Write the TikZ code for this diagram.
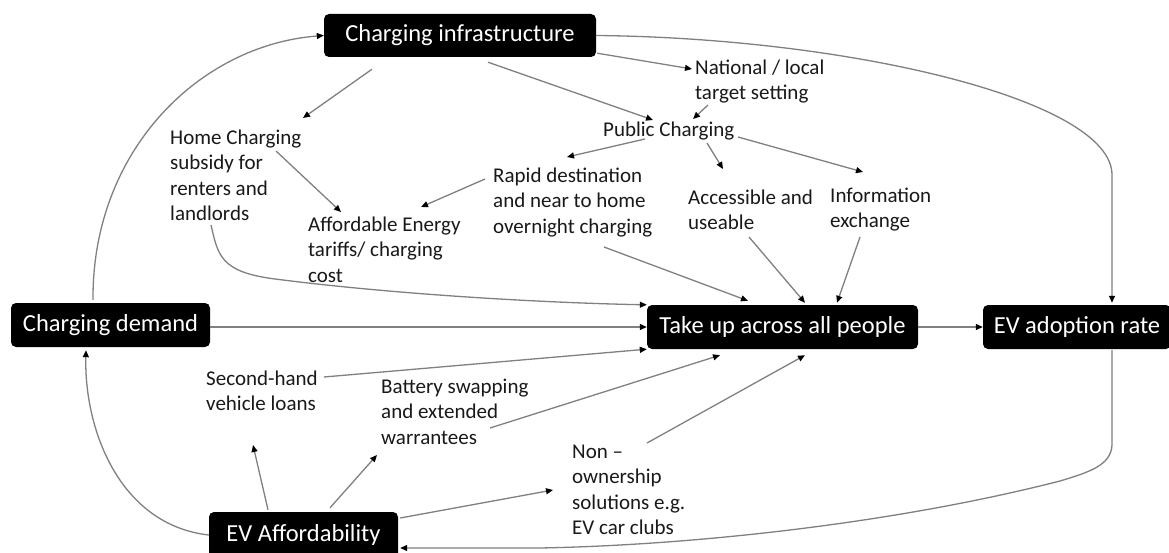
\documentclass[tikz,border=0pt]{standalone}
\usepackage{fontspec}
\setmainfont{Carlito}
\usetikzlibrary{arrows.meta,calc}
\definecolor{ln}{RGB}{128,128,128}
\definecolor{tx}{RGB}{25,25,25}
\begin{document}
\begin{tikzpicture}[x=1pt,y=-1pt,
  box/.style={fill=black, text=white, rounded corners=5pt, inner sep=0pt, font=\fontsize{24.5}{29}\selectfont},
  lbl/.style={anchor=north west, inner sep=0pt, align=left, text=tx, font=\fontsize{21}{25.5}\selectfont},
  arr/.style={draw=ln, line width=1.3pt, -{Triangle[length=7pt,width=6pt,color=black]}},
]
\clip (0,0) rectangle (1169,553);
\fill[white] (0,0) rectangle (1169,553);
% boxes
\node[box, minimum width=272pt, minimum height=43pt] (infra) at (460,35.5) {Charging infrastructure\hspace{18pt}};
\node[box, minimum width=199pt, minimum height=44pt] (demand) at (110.5,325) {Charging demand};
\node[box, minimum width=271pt, minimum height=44pt] (takeup) at (782.5,327) {Take up across all people};
\node[box, minimum width=188pt, minimum height=44pt] (adoption) at (1077,327) {EV adoption rate};
\node[box, minimum width=189pt, minimum height=46pt] (afford) at (303.5,535) {EV Affordability\hspace{10pt}};
% labels
\node[lbl] (national) at (695,59.5) {National / local\\target setting};
\node[lbl] (public) at (603,121.5) {Public Charging};
\node[lbl] (home) at (170,129.5) {Home Charging\\subsidy for\\renters and\\landlords};
\node[lbl] (affordable) at (308,216.5) {Affordable Energy\\tariffs/ charging\\cost};
\node[lbl] (rapid) at (493,167.5) {Rapid destination\\and near to home\\overnight charging};
\node[lbl] (accessible) at (688,189.5) {Accessible and\\useable};
\node[lbl] (information) at (830,187.5) {Information\\exchange};
\node[lbl] (secondhand) at (206,370.5) {Second-hand\\vehicle loans};
\node[lbl] (battery) at (381,378.5) {Battery swapping\\and extended\\warrantees};
\node[lbl] (nonown) at (572,444.5) {Non –\\ownership\\solutions e.g.\\EV car clubs};
% connectors
\draw[arr] ($(infra.south)+(-88,12)$) -- ($(home.north west)+(133,-11.5)$);
\draw[arr] ($(infra.south)+(28,5)$) -- ($(public.north west)+(50,-1.5)$);
\draw[arr] ($(infra.south east)+(1,-4)$) -- ($(national.north west)+(-3,9.5)$);
\draw[arr] ($(national.north west)+(13,45.5)$) -- ($(public.north west)+(90,-2.5)$);
\draw[arr] ($(public.north west)+(42,17.5)$) -- ($(rapid.north west)+(74,-10.5)$);
\draw[arr] ($(public.north west)+(104,21.5)$) -- ($(accessible.north west)+(35,-20.5)$);
\draw[arr] ($(public.north west)+(135,15.5)$) -- ($(information.north west)+(33,-15.5)$);
\draw[arr] ($(home.north west)+(106,21.5)$) -- ($(affordable.north west)+(33,-4.5)$);
\draw[arr] ($(rapid.north west)+(-8,11.5)$) -- ($(affordable.north west)+(113,-9.5)$);
\draw[arr] ($(home.north west)+(41,95.5)$) .. controls (218,255) and (220,272) .. (275,279) .. controls (400,295) and (550,303) .. (takeup.north west);
\draw[arr] ($(demand.east)+(0,2)$) -- (takeup.west);
\draw[arr] ($(secondhand.north west)+(118,6.5)$) -- (takeup.south west);
\draw[arr] ($(battery.north west)+(109,49.5)$) -- ($(takeup.south)+(-62.5,6)$);
\draw[arr] ($(nonown.north west)+(75,-1.5)$) -- ($(takeup.south)+(22.5,6)$);
\draw[arr] ($(rapid.north west)+(111,79.5)$) -- ($(takeup.north)+(-34.5,-4)$);
\draw[arr] ($(accessible.north west)+(61,47.5)$) -- ($(takeup.north)+(22.5,-2)$);
\draw[arr] ($(information.north west)+(30,49.5)$) -- ($(takeup.north)+(54.5,-2)$);
\draw[arr] (takeup.east) -- (adoption.west);
\draw[arr] (infra.east) .. controls (850,38) and (1112,100) .. (1112,175) -- ($(adoption.north)+(35,-2)$);
\draw[arr] ($(adoption.south)+(35,1)$) -- (1112,445) .. controls (1111,465) and (1090,472) .. (1060,481) .. controls (900,522) and (700,545) .. (540,548) -- ($(afford.east)+(2,13)$);
\draw[arr] (afford.west) .. controls (120,525) and (84,430) .. ($(demand.south)+(-24.5,3)$);
\draw[arr] ($(demand.north)+(-17.5,-3)$) .. controls (92,150) and (200,45) .. (infra.west);
\draw[arr] ($(afford.north)+(-35.5,-2)$) -- ($(secondhand.north west)+(47,74.5)$);
\draw[arr] ($(afford.north)+(26.5,-4)$) -- ($(battery.north west)+(-4,76.5)$);
\draw[arr] ($(afford.east)+(2,-17)$) -- ($(nonown.north west)+(-19,45.5)$);
\end{tikzpicture}
\end{document}
